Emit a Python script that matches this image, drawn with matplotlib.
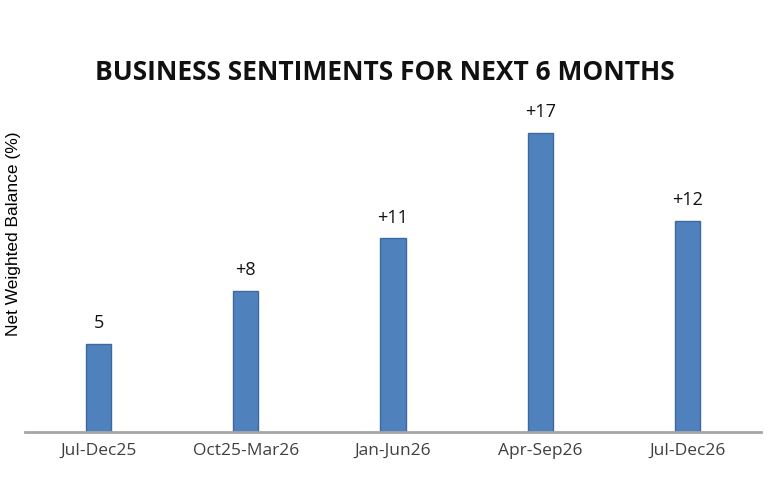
import matplotlib.pyplot as plt

categories = ["Jul-Dec25", "Oct25-Mar26", "Jan-Jun26", "Apr-Sep26", "Jul-Dec26"]
values = [5, 8, 11, 17, 12]
value_labels = ["5", "+8", "+11", "+17", "+12"]

fig = plt.figure(figsize=(7.7, 5), dpi=100)
ax = fig.add_axes([25 / 770, 68 / 500, 736 / 770, 352 / 500])

x = range(len(categories))
bars = ax.bar(x, values, width=0.17, color="#4F81BD", edgecolor="#3B6AA0", linewidth=1)

for b, lab in zip(bars, value_labels):
    ax.annotate(lab, (b.get_x() + b.get_width() / 2, b.get_height()),
                xytext=(0, 15), textcoords="offset points",
                ha="center", va="center", fontsize=13, family="Open Sans", color="#111111")

ax.set_xlim(-0.5, 4.5)
ax.set_ylim(0, 20)
ax.set_xticks(list(x))
ax.set_xticklabels(categories, fontsize=12.5, family="Open Sans", color="#404040")
ax.tick_params(axis="x", length=0, pad=8)
ax.set_yticks([])
for s in ["top", "right", "left"]:
    ax.spines[s].set_visible(False)
ax.spines["bottom"].set_color("#A6A6A6")
ax.spines["bottom"].set_linewidth(2)

fig.text(14 / 770, 1 - 234 / 500, "Net Weighted Balance (%)", rotation=90,
         ha="center", va="center", fontsize=12.5, family="Liberation Sans")

fig.text(0.5, 1 - 72 / 500, "BUSINESS SENTIMENTS FOR NEXT 6 MONTHS", ha="center", va="center",
         fontsize=19, fontweight="bold", family="Open Sans", color="#111111")

fig.savefig("out.png", dpi=100)
